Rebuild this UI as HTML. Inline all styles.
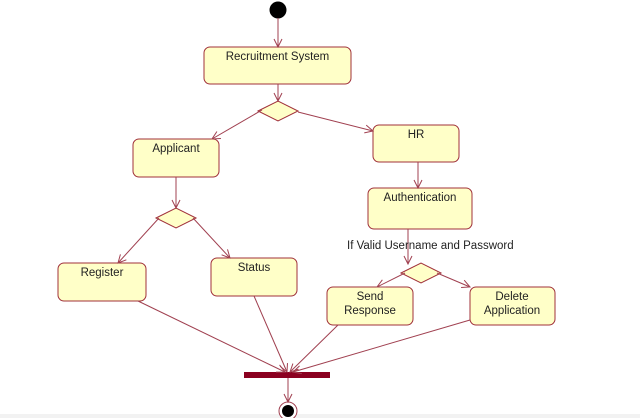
<!DOCTYPE html>
<html><head><style>body{margin:0;background:#fff}svg{display:block}text{font-family:"Liberation Sans",sans-serif;font-size:11.5px;fill:#222}</style></head>
<body><svg width="640" height="418" viewBox="0 0 640 418">
<defs><marker id="a" markerWidth="10" markerHeight="10" refX="9" refY="5" orient="auto" markerUnits="userSpaceOnUse"><path d="M1,1 L9,5 L1,9" fill="none" stroke="#a04050" stroke-width="1"/></marker></defs>
<g fill="#ffffc8" stroke="#a0303a" stroke-width="1">
<rect x="204" y="47" width="147" height="37" rx="6"/>
<rect x="133" y="139" width="86" height="38" rx="6"/>
<rect x="373" y="125" width="86" height="37" rx="6"/>
<rect x="368" y="188" width="104" height="41" rx="6"/>
<rect x="58" y="263" width="88" height="38" rx="6"/>
<rect x="211" y="258" width="86" height="38" rx="6"/>
<rect x="327" y="287" width="86" height="38" rx="6"/>
<rect x="470" y="287" width="85" height="38" rx="6"/>
<path d="M258,111 L278,101 L298,111 L278,121Z"/>
<path d="M156,218 L176,208 L196,218 L176,228Z"/>
<path d="M401,273 L421,263 L441,273 L421,283Z"/>
</g>
<circle cx="278" cy="10" r="8.5" fill="#000"/>
<rect x="244" y="372" width="86" height="6" fill="#8b0020"/>
<rect x="0" y="414" width="640" height="4" fill="#f2f2f2"/>
<circle cx="288" cy="411" r="9" fill="#fff" stroke="#a04050"/>
<circle cx="288" cy="411" r="6" fill="#000"/>
<g stroke="#a04050" stroke-width="1" fill="none" marker-end="url(#a)">
<line x1="278" y1="18" x2="278" y2="47"/>
<line x1="278" y1="84" x2="278" y2="101"/>
<line x1="262" y1="110" x2="212" y2="139"/>
<line x1="298" y1="112" x2="373" y2="131"/>
<line x1="176" y1="177" x2="176" y2="208"/>
<line x1="418" y1="162" x2="418" y2="188"/>
<line x1="159" y1="218" x2="118" y2="263"/>
<line x1="193" y1="218" x2="230" y2="258"/>
<line x1="408" y1="229" x2="408" y2="264"/>
<line x1="405" y1="273" x2="377" y2="287"/>
<line x1="437" y1="273" x2="470" y2="287"/>
<line x1="138" y1="301" x2="285" y2="372"/>
<line x1="254" y1="296" x2="287" y2="372"/>
<line x1="338" y1="325" x2="290" y2="372"/>
<line x1="470" y1="320" x2="293" y2="372"/>
<line x1="288" y1="378" x2="288" y2="402"/>
</g>
<text x="277.5" y="60" text-anchor="middle">Recruitment System</text>
<text x="176" y="152" text-anchor="middle">Applicant</text>
<text x="416" y="138" text-anchor="middle">HR</text>
<text x="420" y="201" text-anchor="middle">Authentication</text>
<text x="102" y="276" text-anchor="middle">Register</text>
<text x="254" y="271" text-anchor="middle">Status</text>
<text x="370" y="300" text-anchor="middle">Send</text>
<text x="370" y="314" text-anchor="middle">Response</text>
<text x="512" y="300" text-anchor="middle">Delete</text>
<text x="512" y="314" text-anchor="middle">Application</text>
<text x="347" y="249">If Valid Username and Password</text>
</svg></body></html>
